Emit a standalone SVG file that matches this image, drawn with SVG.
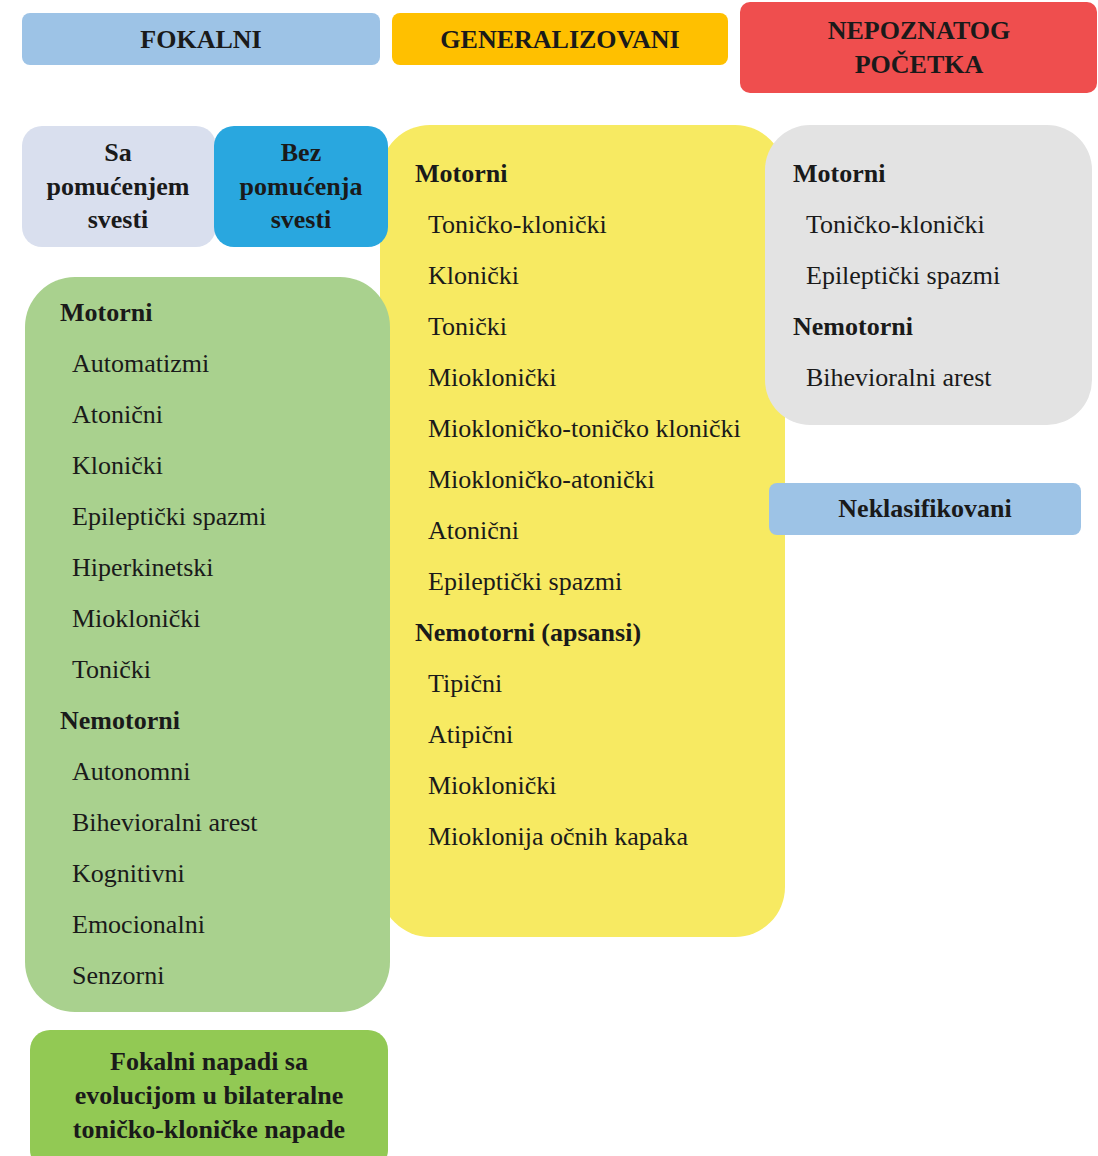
<svg xmlns="http://www.w3.org/2000/svg" width="1098" height="1156" viewBox="0 0 1098 1156">
<style>
text{font-family:"Liberation Serif","Times New Roman",serif;fill:#1a1a1a;}
.h{font-size:26px;font-weight:bold;text-anchor:middle;}
.b{font-size:26px;font-weight:bold;text-anchor:middle;}
.hd{font-size:26px;font-weight:bold;}
.it{font-size:26px;}
</style>
<rect width="1098" height="1156" fill="#ffffff"/>
<g id="fokalni">
<rect x="22" y="13" width="358" height="52" rx="8" fill="#9DC3E6"/>
<text class="h" x="201" y="48">FOKALNI</text>
</g>
<g id="generalizovani">
<rect x="392" y="13" width="336" height="52" rx="8" fill="#FFC000"/>
<text class="h" x="560" y="48">GENERALIZOVANI</text>
</g>
<g id="nepoznatog">
<rect x="740" y="2" width="357" height="91" rx="10" fill="#EF4E4E"/>
<text class="h" x="919" y="39">NEPOZNATOG</text>
<text class="h" x="919" y="73">POČETKA</text>
</g>
<g id="generalizovani-lista">
<rect x="380" y="125" width="405" height="812" rx="50" fill="#F7EA62"/>
<text class="hd" x="415" y="182">Motorni</text>
<text class="it" x="428" y="233">Toničko-klonički</text>
<text class="it" x="428" y="284">Klonički</text>
<text class="it" x="428" y="335">Tonički</text>
<text class="it" x="428" y="386">Mioklonički</text>
<text class="it" x="428" y="437">Miokloničko-toničko klonički</text>
<text class="it" x="428" y="488">Miokloničko-atonički</text>
<text class="it" x="428" y="539">Atonični</text>
<text class="it" x="428" y="590">Epileptički spazmi</text>
<text class="hd" x="415" y="641">Nemotorni (apsansi)</text>
<text class="it" x="428" y="692">Tipični</text>
<text class="it" x="428" y="743">Atipični</text>
<text class="it" x="428" y="794">Mioklonički</text>
<text class="it" x="428" y="845">Mioklonija očnih kapaka</text>
</g>
<g id="sa-pomucenjem">
<rect x="22" y="126" width="194" height="121" rx="20" fill="#D9DFEE"/>
<text class="b" x="118" y="161">Sa</text>
<text class="b" x="118" y="195">pomućenjem</text>
<text class="b" x="118" y="228">svesti</text>
</g>
<g id="bez-pomucenja">
<rect x="214" y="126" width="174" height="121" rx="20" fill="#29A7DF"/>
<text class="b" x="301" y="161">Bez</text>
<text class="b" x="301" y="195">pomućenja</text>
<text class="b" x="301" y="228">svesti</text>
</g>
<g id="fokalni-lista">
<rect x="25" y="277" width="365" height="735" rx="50" fill="#A9D18E"/>
<text class="hd" x="60" y="321">Motorni</text>
<text class="it" x="72" y="372">Automatizmi</text>
<text class="it" x="72" y="423">Atonični</text>
<text class="it" x="72" y="474">Klonički</text>
<text class="it" x="72" y="525">Epileptički spazmi</text>
<text class="it" x="72" y="576">Hiperkinetski</text>
<text class="it" x="72" y="627">Mioklonički</text>
<text class="it" x="72" y="678">Tonički</text>
<text class="hd" x="60" y="729">Nemotorni</text>
<text class="it" x="72" y="780">Autonomni</text>
<text class="it" x="72" y="831">Bihevioralni arest</text>
<text class="it" x="72" y="882">Kognitivni</text>
<text class="it" x="72" y="933">Emocionalni</text>
<text class="it" x="72" y="984">Senzorni</text>
</g>
<g id="nepoznatog-lista">
<rect x="765" y="125" width="327" height="300" rx="45" fill="#E3E3E3"/>
<text class="hd" x="793" y="182">Motorni</text>
<text class="it" x="806" y="233">Toničko-klonički</text>
<text class="it" x="806" y="284">Epileptički spazmi</text>
<text class="hd" x="793" y="335">Nemotorni</text>
<text class="it" x="806" y="386">Bihevioralni arest</text>
</g>
<g id="neklasifikovani">
<rect x="769" y="483" width="312" height="52" rx="8" fill="#9DC3E6"/>
<text class="b" x="925" y="517">Neklasifikovani</text>
</g>
<g id="fokalni-bilateralni">
<rect x="30" y="1030" width="358" height="140" rx="20" fill="#92C954"/>
<text class="b" x="209" y="1070">Fokalni napadi sa</text>
<text class="b" x="209" y="1104">evolucijom u bilateralne</text>
<text class="b" x="209" y="1138">toničko-kloničke napade</text>
</g>
<g id="connectors"/>
</svg>
